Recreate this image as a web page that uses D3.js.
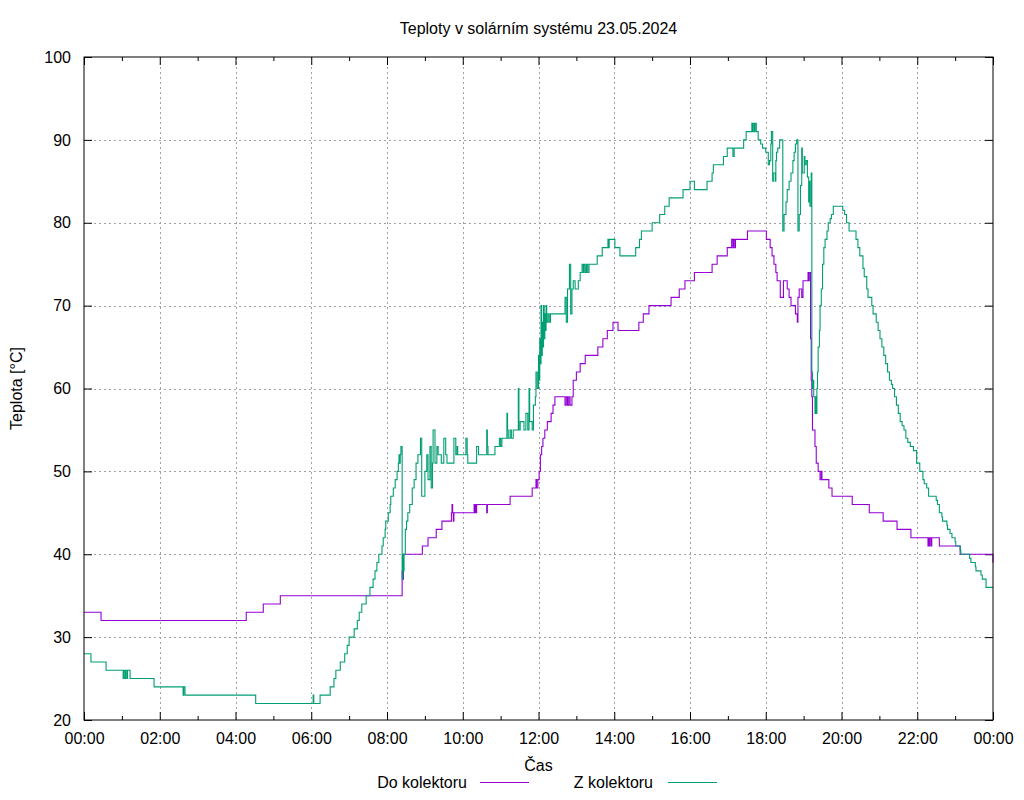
<!DOCTYPE html>
<html>
<head>
<meta charset="utf-8">
<script src="https://cdn.jsdelivr.net/npm/d3@7"></script>
<style>
  body { margin: 0; background: #fff; }
  svg { display: block; }
  text { font-family: "Liberation Sans", Arial, sans-serif; fill: #000; }
</style>
</head>
<body>
<svg id="chart" width="1024" height="800"></svg>
<script>
// Data (time "HH:MM", temperature in °C)
const titleText = 'Teploty v solárním systému 23.05.2024';
const xLabel = 'Čas';
const yLabel = 'Teplota [°C]';
const seriesNames = ['Do kolektoru', 'Z kolektoru'];

const xTickLabels = ['00:00', '02:00', '04:00', '06:00', '08:00', '10:00', '12:00',
    '14:00', '16:00', '18:00', '20:00', '22:00', '00:00'];
const yTickValues = [20, 30, 40, 50, 60, 70, 80, 90, 100];

const doKolektoru = [
    ['00:00', 33], ['00:27', 32], ['04:17', 33], ['04:44', 34], ['05:11', 35],
    ['08:24', 38], ['08:25', 37], ['08:26', 40], ['08:56', 41], ['09:05', 42],
    ['09:18', 43], ['09:27', 44], ['09:42', 45], ['09:43', 46], ['09:44', 45],
    ['09:45', 44], ['09:46', 45], ['10:18', 46], ['10:19', 45], ['10:20', 46],
    ['10:21', 45], ['10:22', 46], ['10:38', 45], ['10:39', 46], ['11:15', 47],
    ['11:50', 48], ['11:56', 49], ['11:57', 48], ['11:59', 49], ['12:01', 50],
    ['12:03', 52], ['12:05', 53], ['12:07', 54], ['12:10', 55], ['12:14', 56],
    ['12:20', 57], ['12:23', 58], ['12:26', 59], ['12:42', 58], ['12:44', 59],
    ['12:46', 58], ['12:48', 59], ['12:50', 58], ['12:53', 59], ['12:55', 61],
    ['13:00', 62], ['13:06', 63], ['13:14', 64], ['13:34', 65], ['13:42', 66],
    ['13:49', 67], ['13:58', 68], ['14:06', 67], ['14:39', 68], ['14:46', 69],
    ['14:55', 70], ['15:30', 71], ['15:43', 72], ['15:52', 73], ['16:07', 74],
    ['16:35', 75], ['16:43', 76], ['16:59', 77], ['17:06', 78], ['17:08', 77],
    ['17:09', 78], ['17:11', 77], ['17:12', 78], ['17:31', 79], ['18:01', 78],
    ['18:07', 77], ['18:10', 76], ['18:13', 75], ['18:16', 74], ['18:18', 73],
    ['18:23', 71], ['18:28', 73], ['18:34', 72], ['18:37', 71], ['18:40', 70],
    ['18:47', 69], ['18:50', 68], ['18:51', 71], ['18:53', 72], ['18:57', 71],
    ['18:59', 73], ['19:07', 74], ['19:08', 73], ['19:09', 74], ['19:11', 66],
    ['19:12', 61], ['19:13', 59], ['19:14', 55], ['19:18', 53], ['19:20', 51],
    ['19:23', 50], ['19:26', 49], ['19:28', 50], ['19:29', 49], ['19:40', 48],
    ['19:45', 47], ['20:17', 46], ['20:44', 45], ['21:06', 44], ['21:28', 43],
    ['21:50', 42], ['22:17', 41], ['22:18', 42], ['22:19', 41], ['22:20', 42],
    ['22:22', 41], ['22:23', 42], ['22:35', 41], ['23:08', 40], ['24:00', 39]
];

const zKolektoru = [
    ['00:00', 28], ['00:11', 27], ['00:35', 26], ['01:02', 25], ['01:03', 26],
    ['01:05', 25], ['01:06', 26], ['01:08', 25], ['01:09', 26], ['01:13', 25],
    ['01:51', 24], ['02:37', 23], ['02:38', 24], ['02:40', 23], ['04:32', 22],
    ['06:03', 23], ['06:04', 22], ['06:14', 23], ['06:30', 24], ['06:36', 25],
    ['06:39', 26], ['06:46', 27], ['06:53', 28], ['06:57', 29], ['07:00', 30],
    ['07:08', 31], ['07:13', 32], ['07:16', 33], ['07:20', 34], ['07:27', 35],
    ['07:33', 36], ['07:38', 37], ['07:41', 38], ['07:44', 39], ['07:47', 40],
    ['07:52', 41], ['07:54', 42], ['07:57', 43], ['07:58', 44], ['08:02', 45],
    ['08:05', 46], ['08:06', 47], ['08:10', 48], ['08:13', 49], ['08:16', 50],
    ['08:18', 51], ['08:19', 52], ['08:20', 51], ['08:21', 52], ['08:22', 53],
    ['08:24', 37], ['08:25', 40], ['08:26', 38], ['08:27', 40], ['08:29', 43],
    ['08:31', 44], ['08:33', 45], ['08:36', 46], ['08:40', 48], ['08:43', 49],
    ['08:46', 51], ['08:49', 52], ['08:53', 54], ['08:55', 47], ['09:00', 50],
    ['09:03', 52], ['09:05', 49], ['09:08', 53], ['09:10', 48], ['09:12', 51],
    ['09:13', 55], ['09:16', 51], ['09:19', 53], ['09:21', 52], ['09:26', 51],
    ['09:30', 54], ['09:33', 52], ['09:35', 51], ['09:46', 54], ['09:49', 52],
    ['09:51', 53], ['09:52', 52], ['10:05', 54], ['10:07', 52], ['10:08', 51],
    ['10:22', 53], ['10:25', 52], ['10:38', 55], ['10:39', 53], ['10:40', 52],
    ['10:51', 53], ['10:58', 54], ['11:00', 53], ['11:02', 54], ['11:10', 57],
    ['11:11', 55], ['11:12', 54], ['11:15', 55], ['11:17', 54], ['11:20', 55],
    ['11:28', 60], ['11:29', 55], ['11:31', 56], ['11:37', 55], ['11:40', 57],
    ['11:43', 55], ['11:45', 60], ['11:46', 56], ['11:50', 55], ['11:52', 58],
    ['11:55', 59], ['11:56', 62], ['11:58', 60], ['12:00', 64], ['12:01', 61],
    ['12:02', 66], ['12:03', 63], ['12:04', 70], ['12:05', 64], ['12:06', 68],
    ['12:07', 65], ['12:08', 70], ['12:09', 66], ['12:10', 69], ['12:11', 67],
    ['12:12', 70], ['12:13', 68], ['12:15', 69], ['12:17', 68], ['12:19', 69],
    ['12:42', 71], ['12:44', 68], ['12:46', 72], ['12:49', 75], ['12:51', 69],
    ['12:53', 72], ['12:55', 73], ['12:58', 72], ['13:03', 73], ['13:06', 74],
    ['13:09', 75], ['13:11', 74], ['13:12', 75], ['13:14', 74], ['13:16', 75],
    ['13:18', 74], ['13:20', 75], ['13:33', 76], ['13:41', 77], ['13:50', 78],
    ['13:51', 77], ['13:52', 78], ['14:01', 77], ['14:09', 76], ['14:34', 77],
    ['14:40', 78], ['14:43', 79], ['15:00', 80], ['15:12', 81], ['15:20', 82],
    ['15:27', 83], ['15:49', 84], ['16:00', 85], ['16:07', 84], ['16:27', 85],
    ['16:35', 86], ['16:37', 87], ['16:53', 88], ['16:59', 89], ['17:08', 88],
    ['17:10', 89], ['17:25', 90], ['17:29', 91], ['17:38', 92], ['17:39', 91],
    ['17:40', 92], ['17:42', 91], ['17:43', 92], ['17:45', 91], ['17:48', 90],
    ['17:52', 89.5], ['17:55', 89], ['18:00', 88.5], ['18:04', 87], ['18:06', 87.5],
    ['18:08', 89.5], ['18:09', 91], ['18:11', 85], ['18:12', 86], ['18:15', 85],
    ['18:16', 87.5], ['18:17', 88.5], ['18:19', 89], ['18:22', 90], ['18:27', 79],
    ['18:29', 81], ['18:32', 82.5], ['18:34', 84], ['18:37', 85], ['18:40', 86],
    ['18:43', 87.5], ['18:45', 88.5], ['18:47', 89.5], ['18:49', 90], ['18:51', 79],
    ['18:53', 81], ['18:55', 84.5], ['18:57', 89], ['18:58', 86], ['19:01', 88],
    ['19:02', 87], ['19:04', 87.5], ['19:06', 85.5], ['19:08', 82.5], ['19:09', 85],
    ['19:10', 82], ['19:12', 86], ['19:13', 62], ['19:14', 60], ['19:15', 61],
    ['19:16', 59], ['19:18', 57], ['19:19', 59], ['19:20', 57], ['19:21', 60],
    ['19:22', 62], ['19:23', 65], ['19:25', 67], ['19:26', 70], ['19:28', 72],
    ['19:30', 75], ['19:32', 77], ['19:34', 78], ['19:37', 79], ['19:39', 80],
    ['19:42', 80.5], ['19:44', 81], ['19:47', 82], ['20:02', 81.5], ['20:05', 81],
    ['20:08', 80], ['20:12', 79], ['20:23', 78], ['20:26', 77], ['20:29', 76],
    ['20:34', 74.5], ['20:36', 73.5], ['20:40', 72], ['20:42', 71], ['20:48', 70],
    ['20:50', 69], ['20:55', 68], ['20:58', 67], ['21:01', 66], ['21:04', 65],
    ['21:07', 64], ['21:10', 63], ['21:13', 62], ['21:16', 61], ['21:19', 60.5],
    ['21:21', 60], ['21:24', 59], ['21:27', 58], ['21:30', 57], ['21:33', 56],
    ['21:36', 55.5], ['21:39', 55], ['21:42', 54], ['21:45', 53.5], ['21:49', 53],
    ['21:54', 52.5], ['21:59', 51], ['22:04', 50], ['22:09', 49], ['22:11', 48.5],
    ['22:15', 48], ['22:18', 47], ['22:30', 46.5], ['22:32', 46], ['22:35', 45],
    ['22:39', 44.5], ['22:40', 44], ['22:47', 43.5], ['22:48', 43], ['22:52', 42.5],
    ['22:55', 42], ['23:00', 41.5], ['23:01', 41], ['23:08', 40.5], ['23:09', 40],
    ['23:23', 39.5], ['23:25', 39], ['23:32', 38.5], ['23:33', 38], ['23:41', 37.5],
    ['23:43', 37], ['23:49', 36], ['24:00', 36]
];

const seriesColors = ['#9400d3', '#009e73'];

// Layout
const margin = { left: 84, right: 31, top: 57, bottom: 80 };
const width = 1024, height = 800;
const fontSize = 16;

const svg = d3.select('#chart');

// "HH:MM" -> minutes since midnight
const toMinutes = s => {
    const [h, m] = s.split(':').map(Number);
    return h * 60 + m;
};

const x = d3.scaleLinear()
    .domain([0, 1440])
    .range([margin.left, width - margin.right]);

const y = d3.scaleLinear()
    .domain([20, 100])
    .range([height - margin.bottom, margin.top]);

const majorTicks = d3.range(0, 1441, 120);
const minorTicks = d3.range(60, 1440, 120);

// Grid
const grid = svg.append('g').attr('class', 'grid')
    .attr('stroke', '#a0a0a0')
    .attr('stroke-width', 1)
    .attr('stroke-dasharray', '2,3');

grid.selectAll('.vgrid')
    .data(majorTicks.slice(1, -1))
    .enter().append('line')
    .attr('x1', d => Math.round(x(d)) + 0.5)
    .attr('x2', d => Math.round(x(d)) + 0.5)
    .attr('y1', y(100))
    .attr('y2', y(20));

grid.selectAll('.hgrid')
    .data(yTickValues.slice(1, -1))
    .enter().append('line')
    .attr('y1', d => Math.round(y(d)) + 0.5)
    .attr('y2', d => Math.round(y(d)) + 0.5)
    .attr('x1', x(0))
    .attr('x2', x(1440));

// Axes (gnuplot style: ticks inward, on all four sides)
const xAxisG = svg.append('g')
    .attr('transform', `translate(0,${y(20)})`)
    .call(d3.axisBottom(x)
        .tickValues(majorTicks)
        .tickSize(-8)
        .tickFormat((d, i) => xTickLabels[i]));
xAxisG.select('.domain').remove();
xAxisG.selectAll('text')
    .attr('y', 13)
    .style('font-size', fontSize + 'px')
    .style('font-family', '"Liberation Sans", Arial, sans-serif');

const xMinorBottom = svg.append('g')
    .attr('transform', `translate(0,${y(20)})`)
    .call(d3.axisBottom(x).tickValues(minorTicks).tickSize(-4).tickFormat(''));
xMinorBottom.select('.domain').remove();

const xTop = svg.append('g')
    .attr('transform', `translate(0,${y(100)})`)
    .call(d3.axisTop(x).tickValues(majorTicks).tickSize(-8).tickFormat(''));
xTop.select('.domain').remove();

const xMinorTop = svg.append('g')
    .attr('transform', `translate(0,${y(100)})`)
    .call(d3.axisTop(x).tickValues(minorTicks).tickSize(-4).tickFormat(''));
xMinorTop.select('.domain').remove();

const yAxisG = svg.append('g')
    .attr('transform', `translate(${x(0)},0)`)
    .call(d3.axisLeft(y).tickValues(yTickValues).tickSize(-8));
yAxisG.select('.domain').remove();
yAxisG.selectAll('text')
    .attr('x', -13)
    .style('font-size', fontSize + 'px')
    .style('font-family', '"Liberation Sans", Arial, sans-serif');

const yRight = svg.append('g')
    .attr('transform', `translate(${x(1440)},0)`)
    .call(d3.axisRight(y).tickValues(yTickValues).tickSize(-8).tickFormat(''));
yRight.select('.domain').remove();

svg.selectAll('.tick line').attr('stroke', '#000');

// Series
const line = d3.line()
    .curve(d3.curveStepAfter)
    .x(d => x(toMinutes(d[0])))
    .y(d => y(d[1]));

[doKolektoru, zKolektoru].forEach((data, i) => {
    svg.append('path')
        .datum(data)
        .attr('fill', 'none')
        .attr('stroke', seriesColors[i])
        .attr('stroke-width', 1.1)
        .attr('d', line);
});

// Frame
svg.append('rect')
    .attr('x', x(0))
    .attr('y', y(100))
    .attr('width', x(1440) - x(0))
    .attr('height', y(20) - y(100))
    .attr('fill', 'none')
    .attr('stroke', '#000')
    .attr('stroke-width', 1);

// Titles
svg.append('text')
    .attr('x', (x(0) + x(1440)) / 2)
    .attr('y', 34)
    .attr('text-anchor', 'middle')
    .style('font-size', fontSize + 'px')
    .text(titleText);

svg.append('text')
    .attr('x', (x(0) + x(1440)) / 2)
    .attr('y', 771)
    .attr('text-anchor', 'middle')
    .style('font-size', fontSize + 'px')
    .text(xLabel);

svg.append('text')
    .attr('transform', `translate(22,${(y(20) + y(100)) / 2}) rotate(-90)`)
    .attr('text-anchor', 'middle')
    .style('font-size', fontSize + 'px')
    .text(yLabel);

// Legend
const legendItems = [
    { textX: 467, lineX1: 480, lineX2: 529 },
    { textX: 653, lineX1: 668, lineX2: 717 }
];
const legendY = 782;

legendItems.forEach((item, i) => {
    svg.append('text')
        .attr('x', item.textX)
        .attr('y', legendY + 6)
        .attr('text-anchor', 'end')
        .style('font-size', fontSize + 'px')
        .text(seriesNames[i]);
    svg.append('line')
        .attr('x1', item.lineX1)
        .attr('x2', item.lineX2)
        .attr('y1', legendY + 0.5)
        .attr('y2', legendY + 0.5)
        .attr('stroke', seriesColors[i])
        .attr('stroke-width', 1.1);
});
</script>
</body>
</html>
